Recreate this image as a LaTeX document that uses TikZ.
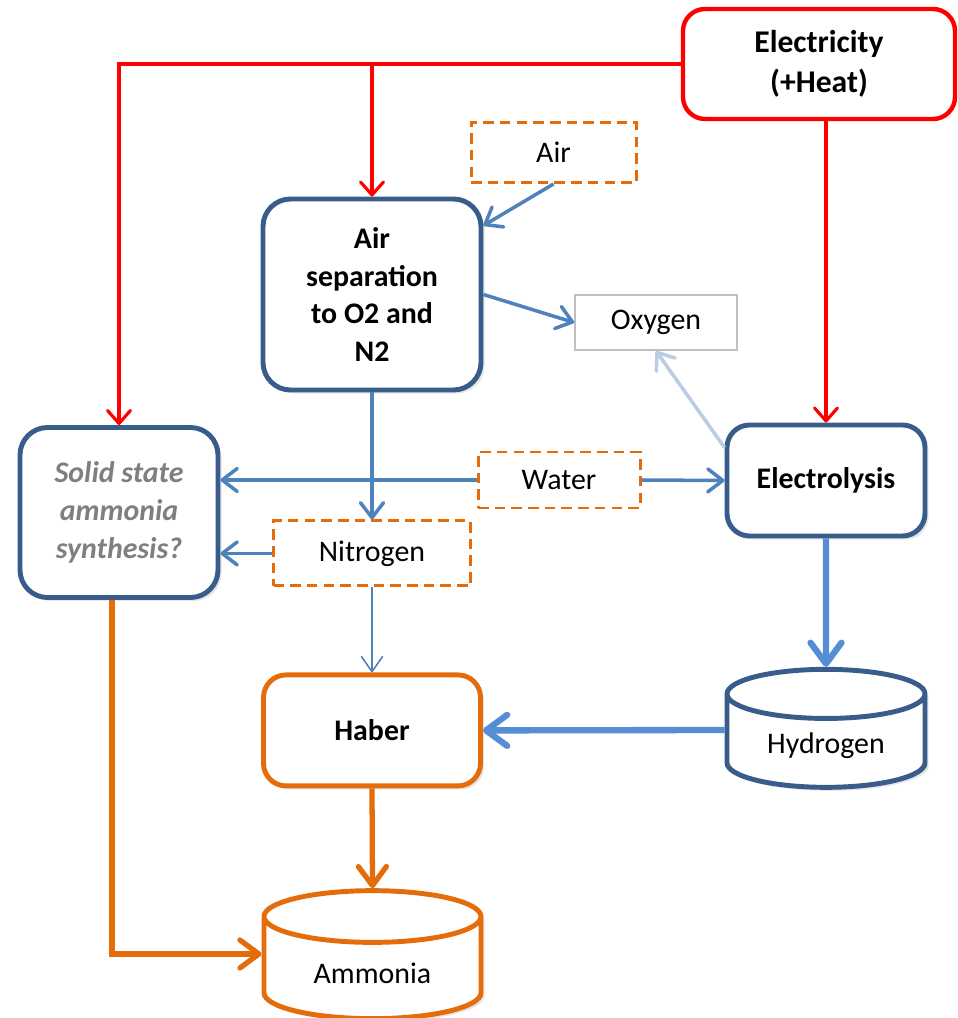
\documentclass[tikz,border=0pt]{standalone}
\usepackage{fontspec}
\setmainfont{Carlito}
\usepackage{xcolor}
\usetikzlibrary{shapes.geometric,arrows.meta,positioning,shadows}

\definecolor{elecred}{HTML}{FF0000}
\definecolor{boxblue}{HTML}{385D8A}
\definecolor{flowblue}{HTML}{4F81BD}
\definecolor{fatblue}{HTML}{558ED5}
\definecolor{paleblue}{HTML}{B9CDE5}
\definecolor{nh3orange}{HTML}{E46C0A}
\definecolor{txtgray}{HTML}{7F7F7F}
\definecolor{oxgray}{HTML}{BFBFBF}

\newcommand{\diagfont}{\fontsize{17}{21.5}\selectfont}

\begin{document}
\begin{tikzpicture}[
  node distance=1.8cm and 1.8cm,
  procbox/.style={draw=boxblue, line width=2.8pt, rounded corners=0.55cm, align=center,
                  fill=white, font=\diagfont\bfseries,
                  drop shadow={shadow xshift=0.07cm, shadow yshift=-0.07cm, opacity=0.2}},
  elecbox/.style={draw=elecred, line width=2.5pt, rounded corners=0.44cm, align=center,
                  fill=white, font=\fontsize{18}{22.5}\selectfont\bfseries,
                  minimum width=5.44cm, minimum height=2.2cm},
  feedbox/.style={draw=nh3orange, line width=1.7pt, dash pattern=on 6pt off 3.5pt,
                  font=\diagfont, minimum width=3.3cm, minimum height=1.2cm},
  gasbox/.style={draw=oxgray, line width=1.1pt, font=\diagfont,
                 minimum width=3.24cm, minimum height=1.1cm},
  tank/.style={cylinder, shape border rotate=90, aspect=0.38, line width=2.8pt,
               fill=white, font=\diagfont, minimum width=3.96cm, minimum height=2.36cm,
               drop shadow={shadow xshift=0.07cm, shadow yshift=-0.07cm, opacity=0.2}},
  redarr/.style={draw=elecred, line width=1.8pt,
                 -{Straight Barb[length=0.26cm, width=0.46cm, round]}},
  bluearr/.style={draw=flowblue, line width=2pt,
                  -{Straight Barb[length=0.3cm, width=0.46cm, round]}},
  thinarr/.style={draw=flowblue, line width=0.9pt,
                  -{Straight Barb[length=0.3cm, width=0.42cm, round]}},
  palearr/.style={draw=paleblue, line width=2pt,
                  -{Straight Barb[length=0.3cm, width=0.46cm, round]}},
  fatarr/.style={draw=fatblue, line width=3.6pt,
                 -{Straight Barb[length=0.42cm, width=0.62cm, round]}},
  orgarr/.style={draw=nh3orange, line width=3pt,
                 -{Straight Barb[length=0.38cm, width=0.56cm, round]}}]

  \useasboundingbox (0,0) rectangle (19.14,-20.36);

  \node[elecbox] (elec) at (16.38,-1.28) {Electricity\\(+Heat)};
  \node[procbox, minimum width=4.36cm, minimum height=3.82cm]
       (airsep) at (7.44,-5.89) {Air\\separation\\to O2 and\\N2};
  \node[feedbox] (air) at (11.07,-3.05) {Air};
  \node[gasbox] (oxy) at (13.12,-6.45) {Oxygen};
  \node[feedbox, minimum width=3.24cm, minimum height=1.12cm]
       (water) at (11.18,-9.6) {Water};
  \node[procbox, minimum width=3.96cm, minimum height=2.22cm, rounded corners=0.45cm]
       (electro) at (16.52,-9.61) {Electrolysis};
  \node[procbox, minimum width=3.96cm, minimum height=3.4cm, text=txtgray,
        font=\diagfont\bfseries\itshape] (solid) at (2.38,-10.25)
       {Solid state\\ammonia\\synthesis?};
  \node[feedbox, below=2.54cm of airsep, minimum width=3.94cm, minimum height=1.3cm]
       (nitro) {Nitrogen};
  \node[procbox, draw=nh3orange, below=1.7cm of nitro, minimum width=4.34cm,
        minimum height=2.22cm, rounded corners=0.45cm] (haber) {Haber};
  \node[tank, draw=boxblue] (hydro) at (16.52,-14.92) {Hydrogen};
  \node[tank, draw=nh3orange, minimum width=4.34cm, minimum height=2.56cm, aspect=0.4]
       (ammo) at (7.45,-19.46) {Ammonia};

  \draw[redarr] (elec.west) -| (solid.north);
  \draw[redarr] (airsep.north |- elec.west) -- (airsep.north);
  \draw[redarr] (electro.north |- elec.south) -- (electro.north);
  \draw[bluearr] (air.south) -- ([yshift=-0.58cm]airsep.north east);
  \draw[bluearr] (airsep.east) -- (oxy.west);
  \draw[palearr] ([yshift=-0.5cm]electro.north west) -- (oxy.south);
  \draw[bluearr] (water.east) -- (electro.west);
  \draw[bluearr] (airsep.south) -- (nitro.north);
  \draw[bluearr] (water.west) -- (water.west -| solid.east);
  \draw[bluearr] (nitro.west) -- (nitro.west -| solid.east);
  \draw[thinarr] (nitro.south) -- (haber.north);
  \draw[fatarr] (electro.south) -- (hydro.north);
  \draw[fatarr] ([yshift=0.32cm]hydro.west) -- (haber.east);
  \draw[orgarr] (haber.south) -- (ammo.north);
  \draw[orgarr] ([xshift=-0.14cm]solid.south) |- ([yshift=0.38cm]ammo.west);
\end{tikzpicture}
\end{document}
